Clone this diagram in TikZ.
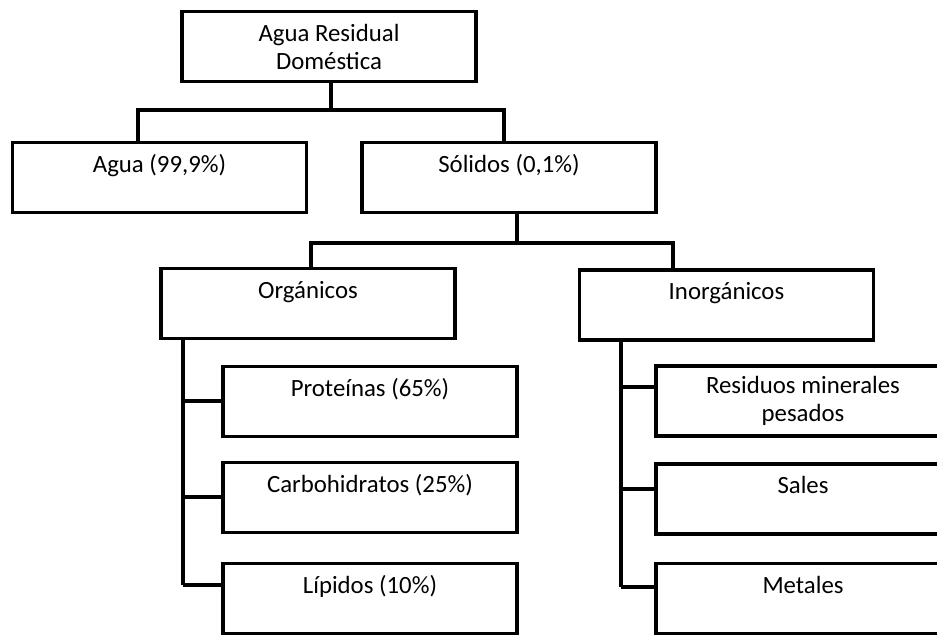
\documentclass[tikz,border=0pt]{standalone}
\usepackage{fontspec}
\setmainfont{Carlito}

\begin{document}
\begin{tikzpicture}[x=0.75pt,y=-0.75pt,
    box/.style={draw,line width=2.3pt,minimum width=220.5pt,minimum height=52.5pt,
      inner sep=0pt,align=center,font=\fontsize{18.6}{21}\selectfont},
    link/.style={line width=2.3pt}]

    \useasboundingbox (0,0) rectangle (937,637);
    \clip (0,0) rectangle (937,637);

    % cajas
    \node[box] (agr)   at (329,46.5)  {Agua Residual\\Doméstica};
    \node[box] (agua)  at (159.5,177.5) {Agua (99,9\%)\\~};
    \node[box] (sol)   at (509,177.5) {Sólidos (0,1\%)\\~};
    \node[box] (org)   at (308,303.5) {Orgánicos\\~};
    \node[box] (inorg) at (726.5,305) {Inorgánicos\\~};
    \node[box] (prot)  at (370,401.5) {Proteínas (65\%)\\~};
    \node[box] (carb)  at (370,497.5) {Carbohidratos (25\%)\\~};
    \node[box] (lip)   at (370,598.5) {Lípidos (10\%)\\~};
    \node[box] (res)   at (803,401)   {Residuos minerales\\pesados};
    \node[box] (sal)   at (803,499)   {Sales\\~};
    \node[box] (met)   at (803,598.5) {Metales\\~};

    % puntos de union
    \coordinate (b1)  at (331,110);
    \coordinate (b1l) at (138,110);
    \coordinate (b1r) at (504,110);
    \coordinate (b2)  at (517,243);
    \coordinate (b2l) at (311,243);
    \coordinate (b2r) at (673,243);
    \coordinate (sl)  at (183,585);
    \coordinate (sr)  at (621,587);

    % primer nivel
    \draw[link] (agr.south -| b1) -- (b1);
    \draw[link] (agua.north -| b1l) -- (b1l) -- (b1r) -- (sol.north -| b1r);

    % segundo nivel
    \draw[link] (sol.south -| b2) -- (b2);
    \draw[link] (org.north -| b2l) -- (b2l) -- (b2r) -- (inorg.north -| b2r);

    % ramas verticales
    \draw[link] (org.south -| sl) -- (sl);
    \draw[link] (inorg.south -| sr) -- (sr);
    \foreach \n/\y in {prot/401, carb/497, lip/585}
      \draw[link] (sl |- 0,\y) -- (\n.west |- 0,\y);
    \foreach \n/\y in {res/387, sal/489, met/587}
      \draw[link] (sr |- 0,\y) -- (\n.west |- 0,\y);

\end{tikzpicture}
\end{document}
